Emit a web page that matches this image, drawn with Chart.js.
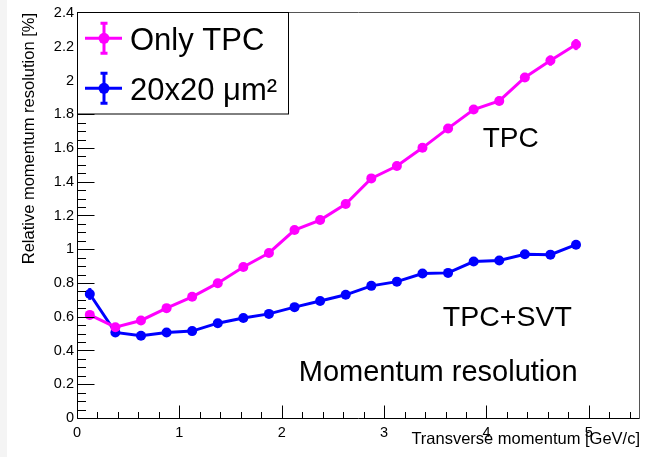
<!DOCTYPE html>
<html><head><meta charset="utf-8">
<script src="https://cdn.jsdelivr.net/npm/chart.js@4"></script>
<style>html,body{margin:0;padding:0;background:#fff}canvas{display:block}</style>
</head><body>
<canvas id="c" width="646" height="457"></canvas>
<script>
// ---- data ----
const pT = [0.125,0.375,0.625,0.875,1.125,1.375,1.625,1.875,2.125,2.375,2.625,2.875,3.125,3.375,3.625,3.875,4.125,4.375,4.625,4.875];
const onlyTPC = [0.611,0.538,0.578,0.651,0.718,0.799,0.895,0.978,1.114,1.173,1.268,1.420,1.493,1.601,1.716,1.828,1.879,2.018,2.118,2.213];
const onlyTPCErr = [0.010,0.008,0.008,0.009,0.010,0.011,0.012,0.013,0.015,0.016,0.017,0.019,0.020,0.021,0.023,0.024,0.025,0.027,0.030,0.033];
const svt20 = [0.735,0.507,0.487,0.507,0.515,0.562,0.593,0.617,0.657,0.693,0.730,0.783,0.808,0.856,0.860,0.927,0.933,0.970,0.968,1.027];
const svt20Err = [0.035,0.008,0.007,0.007,0.007,0.007,0.008,0.008,0.009,0.009,0.010,0.010,0.011,0.011,0.012,0.012,0.013,0.013,0.014,0.015];
const xTicks = [0,1,2,3,4,5];
const yTicks = [0,0.2,0.4,0.6,0.8,1,1.2,1.4,1.6,1.8,2,2.2,2.4];
const seriesNames = ['Only TPC','20x20 \u03bcm\u00b2'];
const xTitle = 'Transverse momentum [GeV/c]';
const yTitle = 'Relative momentum resolution [%]';
const notes = ['TPC','TPC+SVT','Momentum resolution'];

const FONT = '"Liberation Sans", Arial, Helvetica, sans-serif';
const fmt = v => String(+(+v).toFixed(3));

const bgPlugin = {id:'bg', beforeDraw(chart){
  const c = chart.ctx; c.save();
  c.fillStyle = '#fff'; c.fillRect(0,0,chart.width,chart.height);
  c.fillStyle = '#f4f4f4'; c.fillRect(0,0,7,chart.height);
  c.restore();
}};

const errPlugin = {id:'err', beforeDatasetsDraw(chart){
  const {ctx, scales:{x,y}} = chart;
  chart.data.datasets.forEach(ds => {
    ctx.save(); ctx.strokeStyle = ds.borderColor; ctx.lineWidth = 3;
    ds.data.forEach((p,j) => {
      const px = x.getPixelForValue(p.x);
      ctx.beginPath();
      ctx.moveTo(px, y.getPixelForValue(p.y - ds.errors[j]));
      ctx.lineTo(px, y.getPixelForValue(p.y + ds.errors[j]));
      ctx.stroke();
    });
    ctx.restore();
  });
}};

const framePlugin = {id:'frame', afterDatasetsDraw(chart){
  const {ctx, chartArea:{left,right,top,bottom}, scales:{x,y}} = chart;
  ctx.save();
  ctx.lineWidth = 1;
  const L = Math.round(left)+0.5, R = Math.round(right)-0.5, T = Math.round(top)-0.5, B = Math.round(bottom)+0.5;
  ctx.strokeStyle = '#555';
  ctx.beginPath(); ctx.moveTo(L,T); ctx.lineTo(R,T); ctx.lineTo(R,B); ctx.stroke();
  ctx.strokeStyle = '#000';
  ctx.beginPath(); ctx.moveTo(L,T); ctx.lineTo(L,B); ctx.lineTo(R,B); ctx.stroke();
  // y ticks
  for (let k = 0; k <= 48; k++) {
    const v = k*0.05, py = Math.round(y.getPixelForValue(v))+0.5;
    const len = (k%4===0) ? 17 : 8.5;
    ctx.beginPath(); ctx.moveTo(L,py); ctx.lineTo(L+len,py); ctx.stroke();
  }
  // x ticks
  for (let k = 0; k <= 27; k++) {
    const v = k*0.2, px = Math.round(x.getPixelForValue(v))+0.5;
    const len = (k%5===0) ? 13 : 6.5;
    ctx.beginPath(); ctx.moveTo(px,B); ctx.lineTo(px,B-len); ctx.stroke();
  }
  ctx.restore();
}};

const notePlugin = {id:'notes', afterDraw(chart){
  const {ctx, scales:{x,y}} = chart;
  const pos = [[3.964,1.604,28],[3.574,0.546,28.5],[2.166,0.2166,29]];
  ctx.save(); ctx.fillStyle = '#000'; ctx.textAlign = 'left'; ctx.textBaseline = 'alphabetic';
  notes.forEach((t,i) => {
    ctx.font = pos[i][2] + 'px ' + FONT;
    ctx.fillText(t, x.getPixelForValue(pos[i][0]), y.getPixelForValue(pos[i][1]));
  });
  ctx.restore();
}};

const legendPlugin = {id:'rootLegend', afterDraw(chart){
  const ctx = chart.ctx;
  ctx.save();
  ctx.fillStyle = '#fff'; ctx.fillRect(77,12,212,102);
  ctx.strokeStyle = '#000'; ctx.lineWidth = 1;
  ctx.strokeRect(77.5,12.5,211,101.5);
  chart.data.datasets.forEach((ds,i) => {
    const cy = 38.3 + 50*i, col = ds.borderColor;
    ctx.strokeStyle = col; ctx.fillStyle = col; ctx.lineWidth = 3;
    ctx.beginPath(); ctx.moveTo(85,cy); ctx.lineTo(122,cy); ctx.stroke();
    ctx.beginPath(); ctx.moveTo(104,cy-15); ctx.lineTo(104,cy+15); ctx.stroke();
    ctx.beginPath(); ctx.moveTo(100.5,cy-15); ctx.lineTo(107.5,cy-15); ctx.moveTo(100.5,cy+15); ctx.lineTo(107.5,cy+15); ctx.stroke();
    ctx.beginPath(); ctx.arc(104,cy,5.5,0,Math.PI*2); ctx.fill();
    ctx.fillStyle = '#000'; ctx.font = '31px ' + FONT; ctx.textBaseline = 'alphabetic'; ctx.textAlign = 'left';
    ctx.fillText(ds.label, 130, cy + 11.7);
  });
  ctx.restore();
}};

const mk = (vals, errs, label, color) => ({
  label, errors: errs,
  data: pT.map((px,i) => ({x: px, y: vals[i]})),
  borderColor: color, backgroundColor: color,
  borderWidth: 3, pointRadius: 5, pointHoverRadius: 5, pointBorderWidth: 0,
  tension: 0, showLine: true, fill: false
});

new Chart(document.getElementById('c'), {
  type: 'line',
  data: { datasets: [
    mk(onlyTPC, onlyTPCErr, seriesNames[0], '#ff00ff'),
    mk(svt20, svt20Err, seriesNames[1], '#0000ff')
  ]},
  options: {
    responsive: false, animation: false,
    layout: {padding: {left:0, top:13, right:6, bottom:0}},
    plugins: {legend:{display:false}, tooltip:{enabled:false}},
    scales: {
      x: {
        type:'linear', min:0, max:5.5,
        afterBuildTicks: s => { s.ticks = xTicks.map(v => ({value:v})); },
        afterFit: s => { s.height = 39; },
        grid:{display:false, drawTicks:false}, border:{display:false},
        ticks:{font:{family:FONT,size:14.5}, color:'#000', padding:6, maxRotation:0, autoSkip:false, callback: fmt},
        title:{display:true, text:xTitle, align:'end', color:'#000', font:{family:FONT,size:16.5}, padding:{top:0,bottom:8}}
      },
      y: {
        type:'linear', min:0, max:2.4,
        afterBuildTicks: s => { s.ticks = yTicks.map(v => ({value:v})); },
        afterFit: s => { s.width = 77; },
        grid:{display:false, drawTicks:false}, border:{display:false},
        ticks:{font:{family:FONT,size:14.5}, color:'#000', padding:3, autoSkip:false, callback: fmt},
        title:{display:true, text:yTitle, align:'end', color:'#000', font:{family:FONT,size:16.5}, padding:{top:20,bottom:0}}
      }
    }
  },
  plugins: [bgPlugin, errPlugin, framePlugin, notePlugin, legendPlugin]
});
</script>
</body></html>
